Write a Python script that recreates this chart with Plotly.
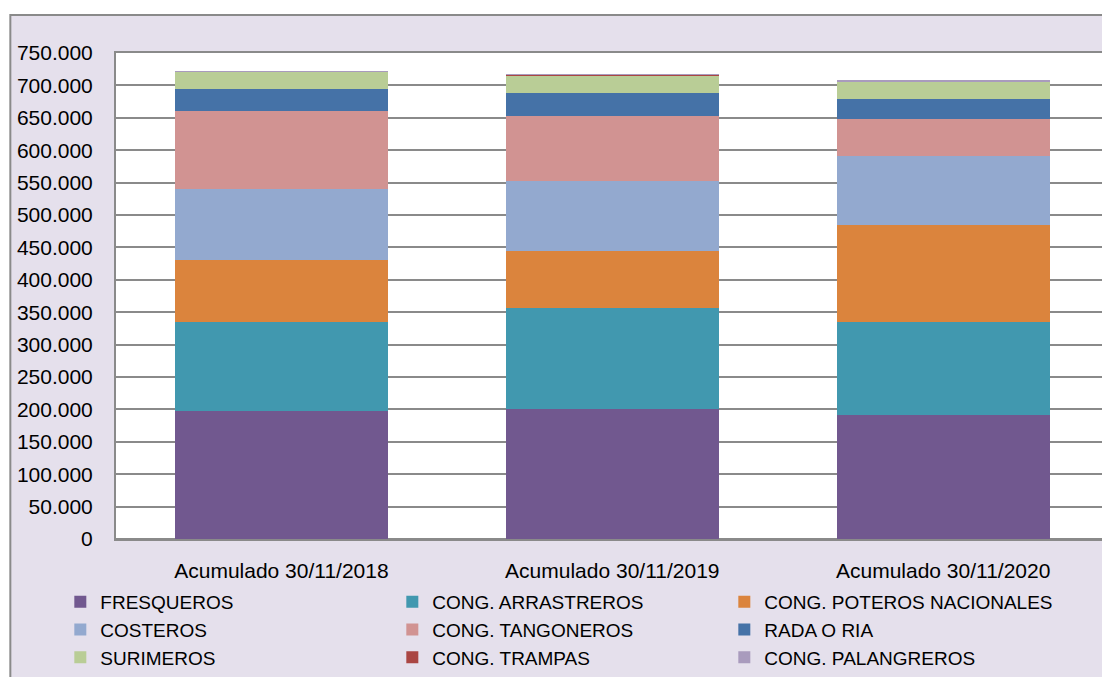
import plotly.graph_objects as go

categories = ["Acumulado 30/11/2018", "Acumulado 30/11/2019", "Acumulado 30/11/2020"]

series_names = ["FRESQUEROS", "CONG. ARRASTREROS", "CONG. POTEROS NACIONALES",
                "COSTEROS", "CONG. TANGONEROS", "RADA O RIA",
                "SURIMEROS", "CONG. TRAMPAS", "CONG. PALANGREROS"]

fresqueros = [197100, 200600, 191800]
arrastreros = [137300, 156400, 143600]
poteros = [96600, 87400, 149700]
costeros = [109100, 108100, 106500]
tangoneros = [120400, 100800, 56000]
rada_o_ria = [33900, 35500, 31400]
surimeros = [26300, 26200, 26700]
trampas = [600, 1100, 200]
palangreros = [500, 300, 1800]

series_values = [fresqueros, arrastreros, poteros, costeros, tangoneros,
                 rada_o_ria, surimeros, trampas, palangreros]

colors = ["#71588F", "#4198AF", "#DB843D", "#93A9CF", "#D19392",
          "#4572A7", "#B9CD96", "#AA4643", "#A99BBD"]

y_ticks = list(range(0, 750001, 50000))

FONT = "Liberation Sans"
GRID = "#8A8A8A"
BG = "#E5E0EC"

fig = go.Figure()
for name, vals, col in zip(series_names, series_values, colors):
    fig.add_trace(go.Bar(x=categories, y=vals, name=name,
                         marker=dict(color=col, line=dict(width=0))))

W, H = 1102, 677
ml, mt, mb, mr = 115.7, 53, 138, 0
pw = W - ml - mr
ph = H - mt - mb

def px_x(p):
    return (p - ml) / pw

def px_y(p):
    return (H - mb - p) / ph

fig.update_layout(
    width=W, height=H,
    margin=dict(l=ml, r=mr, t=mt, b=mb, pad=0, autoexpand=False),
    barmode="stack",
    bargap=0.356,
    separators=",.",
    paper_bgcolor="white",
    plot_bgcolor="white",
    font=dict(family=FONT, size=21, color="black"),
    showlegend=True,
    legend=dict(
        orientation="h",
        x=px_x(60), xanchor="left",
        y=px_y(583), yanchor="top",
        entrywidth=287, entrywidthmode="pixels",
        font=dict(family=FONT, size=19, color="black"),
        bgcolor="rgba(0,0,0,0)",
        traceorder="normal",
        itemclick=False,
    ),
    xaxis=dict(
        type="category",
        range=[-0.5, 2.48],
        showline=True, linecolor=GRID, linewidth=2, mirror=True,
        showgrid=False, ticks="",
        ticklabelstandoff=12,
        tickfont=dict(family=FONT, size=21, color="black"),
    ),
    yaxis=dict(
        range=[0, 750000],
        tickvals=y_ticks,
        tickformat=",.0f",
        showgrid=True, gridcolor=GRID, gridwidth=2,
        zeroline=True, zerolinecolor=GRID, zerolinewidth=2,
        showline=True, linecolor=GRID, linewidth=2,
        ticks="",
        ticklabelstandoff=17,
        tickfont=dict(family=FONT, size=21, color="black"),
    ),
    shapes=[
        dict(type="rect", xref="paper", yref="paper",
             x0=px_x(10), x1=1.2, y0=-0.5, y1=px_y(15),
             fillcolor=BG, line=dict(color=GRID, width=2), layer="below"),
        dict(type="rect", xref="paper", yref="paper",
             x0=0, x1=1, y0=0, y1=1,
             fillcolor="white", line=dict(width=0), layer="below"),
    ],
)

fig.write_html(
    "out.html",
    config={"displayModeBar": False},
    post_script="document.body.style.margin='0';document.body.style.overflow='hidden';",
)
